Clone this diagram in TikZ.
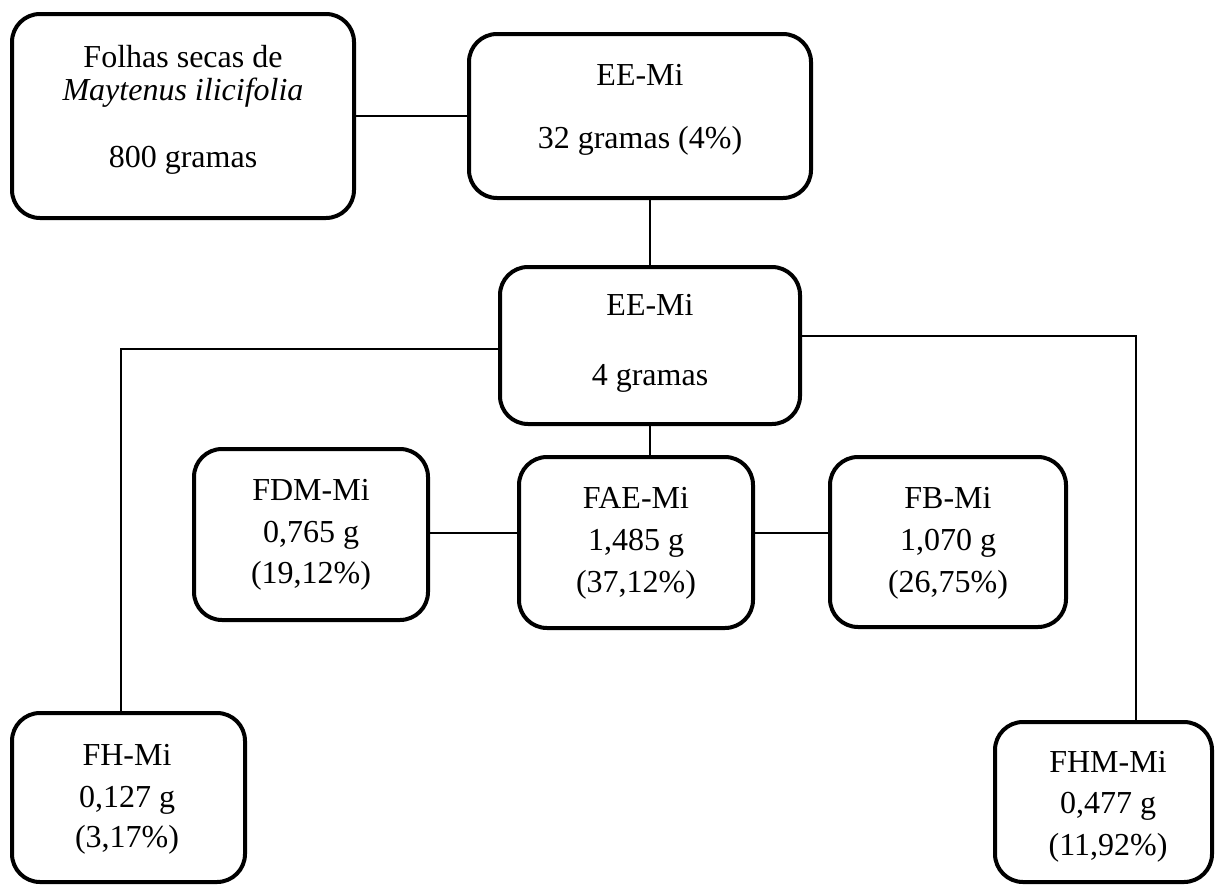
\documentclass[tikz,border=0pt]{standalone}
\usepackage{fontspec}
\setmainfont{Liberation Serif}
\begin{document}
\begin{tikzpicture}[x=1pt,y=-1pt,
  box/.style={draw=black, line width=4pt, rounded corners=28pt, inner sep=0pt, outer sep=0pt},
  conn/.style={draw=black, line width=1.3pt},
  txt/.style={inner sep=0pt, anchor=base, font=\fontsize{32}{38}\selectfont}]
\useasboundingbox (0,0) rectangle (1218,886);
% boxes
\node[box, minimum width=342pt, minimum height=204pt] (b1) at (183,116) {};
\node[box, minimum width=342pt, minimum height=164pt] (b2) at (640,116) {};
\node[box, minimum width=300pt, minimum height=157pt] (b3) at (650,345.5) {};
\node[box, minimum width=234pt, minimum height=171pt] (fdm) at (311,534.5) {};
\node[box, minimum width=234pt, minimum height=171pt] (fae) at (636,542.5) {};
\node[box, minimum width=236pt, minimum height=170pt] (fb) at (948,542) {};
\node[box, minimum width=233pt, minimum height=169pt] (fh) at (128.5,797.5) {};
\node[box, minimum width=217pt, minimum height=160pt] (fhm) at (1103.5,802) {};
% texts
\node[txt] (t1a) at (183,67) {Folhas secas de};
\node[txt] (t1b) at (183,100) {\itshape Maytenus ilicifolia};
\node[txt] (t1c) at (183,167) {800 gramas};
\node[txt] (t2a) at (640,85) {EE-Mi};
\node[txt] (t2b) at (640,148) {32 gramas (4\%)};
\node[txt] (t3a) at (650,315) {EE-Mi};
\node[txt] (t3b) at (650,385) {4 gramas};
\node[txt] (t4a) at (311,500) {FDM-Mi};
\node[txt] (t4b) at (311,542) {0,765 g};
\node[txt] (t4c) at (311,583) {(19,12\%)};
\node[txt] (t5a) at (636,508) {FAE-Mi};
\node[txt] (t5b) at (636,550) {1,485 g};
\node[txt] (t5c) at (636,592) {(37,12\%)};
\node[txt] (t6a) at (948,508) {FB-Mi};
\node[txt] (t6b) at (948,550) {1,070 g};
\node[txt] (t6c) at (948,592) {(26,75\%)};
\node[txt] (t7a) at (127,765) {FH-Mi};
\node[txt] (t7b) at (127,807) {0,127 g};
\node[txt] (t7c) at (127,847) {(3,17\%)};
\node[txt] (t8a) at (1108,772) {FHM-Mi};
\node[txt] (t8b) at (1108,813) {0,477 g};
\node[txt] (t8c) at (1108,855) {(11,92\%)};
% connectors
\coordinate (cl) at (121,349);
\coordinate (cr) at (1136,336);
\coordinate (cm) at (0,533);
\draw[conn] (b1.east) -- (b2.west);
\draw[conn] (b2.south -| b3.north) -- (b3.north);
\draw[conn] (b3.south) -- (fae.north -| b3.south);
\draw[conn] (b3.west |- cl) -- (cl) -- (fh.north -| cl);
\draw[conn] (b3.east |- cr) -- (cr) -- (fhm.north -| cr);
\draw[conn] (fdm.east |- cm) -- (fae.west |- cm);
\draw[conn] (fae.east |- cm) -- (fb.west |- cm);
\end{tikzpicture}
\end{document}
